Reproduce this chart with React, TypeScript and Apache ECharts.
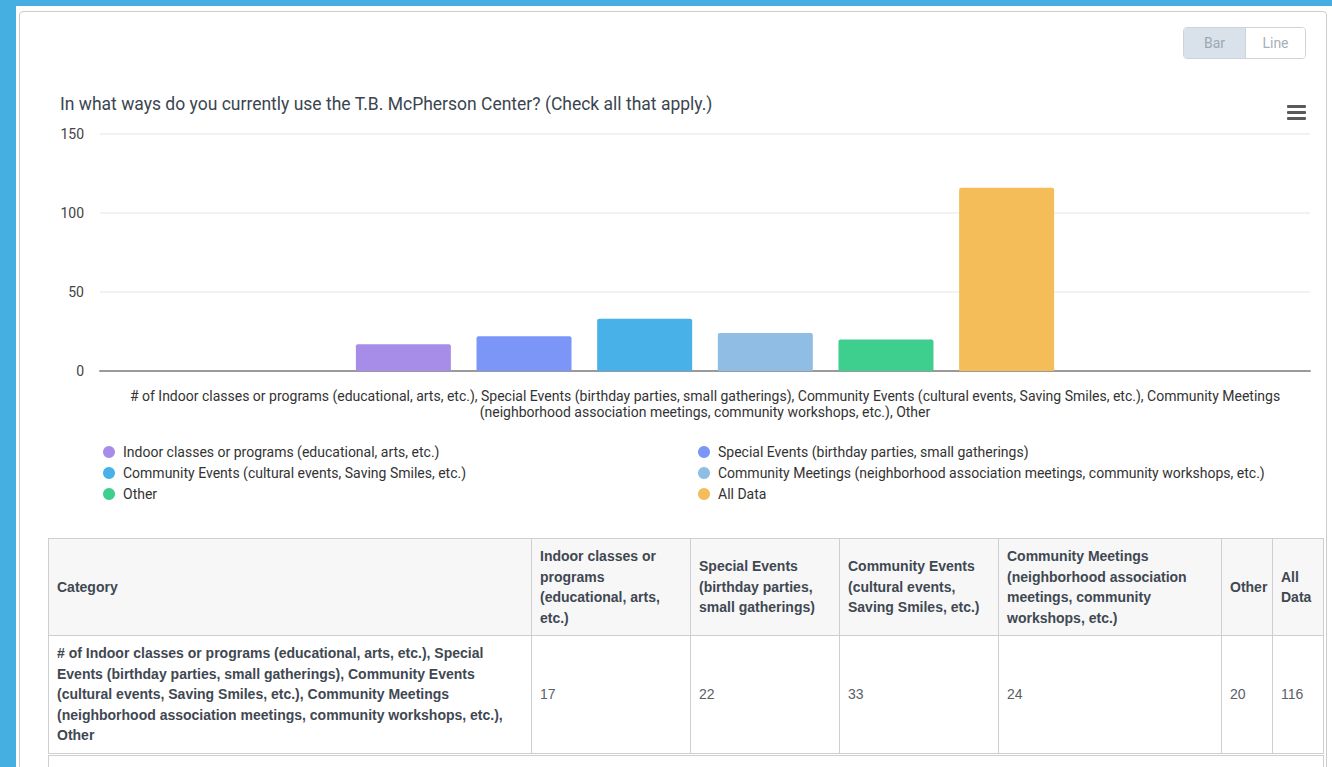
import React, { useEffect, useRef } from "react";
import * as echarts from "echarts";

const titleText = "In what ways do you currently use the T.B. McPherson Center? (Check all that apply.)";
const categories = [
  "# of Indoor classes or programs (educational, arts, etc.), Special Events (birthday parties, small gatherings), Community Events (cultural events, Saving Smiles, etc.), Community Meetings (neighborhood association meetings, community workshops, etc.), Other",
];
const seriesNames = [
  "Indoor classes or programs (educational, arts, etc.)",
  "Special Events (birthday parties, small gatherings)",
  "Community Events (cultural events, Saving Smiles, etc.)",
  "Community Meetings (neighborhood association meetings, community workshops, etc.)",
  "Other",
  "All Data",
];
const seriesValues = [17, 22, 33, 24, 20, 116];
const seriesColors = ["#a88de8", "#7b96f6", "#48b2e8", "#8fbde3", "#3ecf8e", "#f4bd5a"];
const tableHeaders = [
  "Category",
  "Indoor classes or programs (educational, arts, etc.)",
  "Special Events (birthday parties, small gatherings)",
  "Community Events (cultural events, Saving Smiles, etc.)",
  "Community Meetings (neighborhood association meetings, community workshops, etc.)",
  "Other",
  "All Data",
];
const colWidths = [483, 159, 149, 159, 223, 51, 51];

export default function App() {
  const ref = useRef<HTMLDivElement>(null);
  useEffect(() => {
    if (!ref.current) return;
    const chart = echarts.init(ref.current, null, { renderer: "svg" });
    const font = "Roboto, 'Noto Sans', sans-serif";
    const legendBase = {
      orient: "vertical",
      top: 385,
      padding: 0,
      icon: "circle",
      itemWidth: 12,
      itemHeight: 13,
      itemGap: 7,
      textStyle: { fontSize: 14, color: "#333", padding: [0, 0, 0, 3], fontFamily: font },
    };
    chart.setOption({
      animation: false,
      textStyle: { fontFamily: font },
      title: {
        text: titleText,
        left: 41,
        top: 34,
        padding: 0,
        textStyle: { fontSize: 17.5, fontWeight: "normal", color: "#3b4550", lineHeight: 20, fontFamily: font },
      },
      grid: { left: 81, right: 17, top: 74, bottom: 149, containLabel: false },
      legend: [
        { ...legendBase, left: 84, data: [seriesNames[0], seriesNames[2], seriesNames[4]] },
        { ...legendBase, left: 679, data: [seriesNames[1], seriesNames[3], seriesNames[5]] },
      ],
      xAxis: {
        type: "category",
        data: categories,
        axisTick: { show: false },
        axisLine: { lineStyle: { color: "#9a9a9a", width: 2 } },
        axisLabel: {
          fontSize: 14,
          color: "#333",
          lineHeight: 16,
          margin: 17,
          fontFamily: font,
          formatter: (v: string) => v.replace(", Community Meetings (", ", Community Meetings\n("),
        },
      },
      yAxis: {
        type: "value",
        min: 0,
        max: 150,
        interval: 50,
        axisLine: { show: false },
        axisTick: { show: false },
        axisLabel: { fontSize: 14, color: "#444", margin: 16, fontFamily: font },
        splitLine: { lineStyle: { color: "#eeeeee", width: 1.5 } },
      },
      series: seriesNames.map((name, i) => ({
        name,
        type: "bar",
        data: [seriesValues[i]],
        barWidth: 95,
        barGap: "27%",
        itemStyle: { color: seriesColors[i], borderRadius: [2, 2, 0, 0] },
      })),
    });
    return () => chart.dispose();
  }, []);

  const cellBase: React.CSSProperties = {
    border: "1px solid #cfcfcf",
    padding: "8px 8px",
    fontSize: 14,
    lineHeight: "20.5px",
    verticalAlign: "middle",
    textAlign: "left",
  };

  return (
    <div style={{ position: "absolute", left: 0, top: 0, width: 1332, height: 767, overflow: "hidden", background: "#45afe2" }}>
      <div style={{ position: "absolute", left: 16, top: 6, width: 1316, height: 761, background: "#fff" }} />
      <div
        style={{
          position: "absolute",
          left: 19,
          top: 11,
          width: 1306,
          height: 800,
          border: "1px solid #cccccc",
          borderRadius: 4,
          background: "#fff",
        }}
      />
      <div ref={ref} style={{ position: "absolute", left: 19, top: 60, width: 1308, height: 460 }} />
      {/* Bar / Line toggle */}
      <div
        style={{
          position: "absolute",
          left: 1183,
          top: 27,
          width: 121,
          height: 30,
          border: "1px solid #cdd3d8",
          borderRadius: 4,
          display: "flex",
          overflow: "hidden",
          fontFamily: "Roboto, sans-serif",
          fontSize: 14,
        }}
      >
        <div style={{ width: 61, background: "#d9e2ea", color: "#9aa8b6", display: "flex", alignItems: "center", justifyContent: "center", borderRight: "1px solid #cdd3d8" }}>Bar</div>
        <div style={{ flex: 1, background: "#fff", color: "#a8b0b8", display: "flex", alignItems: "center", justifyContent: "center" }}>Line</div>
      </div>
      {/* hamburger */}
      <div style={{ position: "absolute", left: 1287, top: 105, width: 19, height: 3, background: "#5a5a5a", borderRadius: 1 }} />
      <div style={{ position: "absolute", left: 1287, top: 111, width: 19, height: 3, background: "#5a5a5a", borderRadius: 1 }} />
      <div style={{ position: "absolute", left: 1287, top: 117, width: 19, height: 3, background: "#5a5a5a", borderRadius: 1 }} />
      {/* table */}
      <table
        style={{
          position: "absolute",
          left: 48,
          top: 538,
          width: 1275,
          borderCollapse: "collapse",
          tableLayout: "fixed",
          fontFamily: "'Liberation Sans', Arial, sans-serif",
          color: "#4a4f55",
        }}
      >
        <colgroup>
          {colWidths.map((w, i) => (
            <col key={i} style={{ width: w }} />
          ))}
        </colgroup>
        <thead>
          <tr style={{ background: "#f7f7f7", height: 97 }}>
            {tableHeaders.map((h, i) => (
              <th key={i} style={{ ...cellBase, padding: "7px 8px", fontWeight: "bold", color: "#3f4852" }}>{h}</th>
            ))}
          </tr>
        </thead>
        <tbody>
          <tr style={{ height: 118, borderBottom: "3px double #cfcfcf" }}>
            <td style={{ ...cellBase, padding: "7px 8px", fontWeight: "bold", color: "#3f4852" }}>{categories[0]}</td>
            {seriesValues.map((v, i) => (
              <td key={i} style={{ ...cellBase, padding: "7px 8px", color: "#5a6068" }}>{v}</td>
            ))}
          </tr>
          <tr style={{ height: 40 }}>
            <td colSpan={7} style={{ ...cellBase }}></td>
          </tr>
        </tbody>
      </table>
    </div>
  );
}
